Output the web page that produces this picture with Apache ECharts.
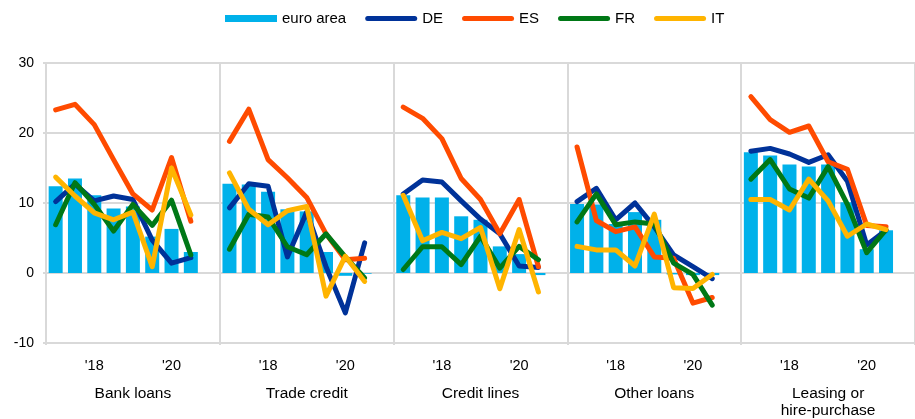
<!DOCTYPE html>
<html><head><meta charset="utf-8">
<script src="https://cdn.jsdelivr.net/npm/echarts@6/dist/echarts.min.js"></script>
<style>html,body{margin:0;padding:0;background:#fff}#c{width:915px;height:419px}</style>
</head><body><div id="c"></div>
<script>
const panels = ['Bank loans', 'Trade credit', 'Credit lines', 'Other loans', 'Leasing or\nhire-purchase'];
const periods = ['17H1', '17H2', '18H1', '18H2', '19H1', '19H2', '20H1', '20H2'];
const yearTicks = { '18H1': "'18", '20H1': "'20" };
const yTicks = [-10, 0, 10, 20, 30];

// one row per panel: Bank loans, Trade credit, Credit lines, Other loans, Leasing
const euroArea = [
  [12.4, 13.5, 11.1, 9.2, 9.5, 5.2, 6.3, 3.0],
  [12.75, 12.65, 11.6, 9.1, 8.8, 3.0, -0.4, -0.1],
  [11.1, 10.8, 10.8, 8.1, 7.6, 3.8, 2.7, -0.3],
  [9.85, 9.8, 7.0, 8.7, 7.6, -0.2, -0.3, -0.3],
  [17.25, 16.8, 15.5, 15.2, 15.5, 10.1, 3.4, 6.1]
];
const DE = [
  [10.2, 12.7, 10.3, 11.0, 10.5, 4.7, 1.4, 2.2],
  [9.3, 12.75, 12.4, 2.3, 8.7, 0.9, -5.7, 4.3],
  [11.3, 13.3, 13.0, 10.3, 7.7, 5.6, 1.0, 0.8],
  [10.2, 12.1, 7.6, 10.0, 6.6, 2.6, 0.9, -0.8],
  [17.4, 17.8, 17.0, 15.8, 16.9, 13.1, 4.0, 6.1]
];
const ES = [
  [23.3, 24.1, 21.2, 16.2, 11.3, 9.0, 16.5, 7.4],
  [18.8, 23.4, 16.2, 13.6, 10.8, 5.6, 1.9, 2.1],
  [23.7, 22.1, 19.2, 13.5, 10.5, 5.6, 10.5, 0.9],
  [18.0, 7.5, 5.9, 6.6, 2.3, 2.1, -4.3, -3.5],
  [25.2, 21.9, 20.1, 21.0, 15.9, 14.8, 6.8, 6.6]
];
const FR = [
  [6.9, 12.9, 9.8, 6.0, 9.8, 6.8, 10.4, 2.6],
  [3.4, 8.4, 8.0, 3.75, 2.6, 5.6, 2.3, -0.7],
  [0.5, 3.75, 3.75, 1.2, 5.25, 0.7, 3.8, 1.9],
  [7.3, 11.3, 6.9, 7.3, 7.0, 1.4, -0.2, -4.6],
  [13.4, 16.2, 12.0, 10.7, 15.2, 9.8, 2.9, 6.2]
];
const IT = [
  [13.7, 11.0, 8.6, 7.6, 8.7, 0.9, 15.0, 8.3],
  [14.3, 9.1, 6.9, 8.9, 9.5, -3.3, 2.4, -1.2],
  [11.1, 4.6, 5.8, 4.9, 6.5, -2.25, 6.2, -2.7],
  [3.8, 3.3, 3.3, 1.0, 8.4, -2.1, -2.2, -0.2],
  [10.5, 10.5, 9.0, 13.4, 10.3, 5.25, 7.0, 6.2]
];

const colors = { 'euro area': '#00B1EA', DE: '#003299', ES: '#FF4B00', FR: '#007816', IT: '#FFB400' };
const FONT = '"Liberation Sans", Arial, sans-serif';
const PER = periods.length + 1;
const LINE_ICON = 'path://M0,0 M52,7 M2.5,1 L49.5,1 A2.5,2.5 0 0 1 49.5,6 L2.5,6 A2.5,2.5 0 0 1 2.5,1 Z';

// build the 45-slot category axis (8 periods + 1 empty slot per panel)
const cats = [];
panels.forEach((p, i) => { periods.forEach(q => cats.push(i + '|' + q)); cats.push(i + '|gap'); });
function flat(rows) { const out = []; rows.forEach(r => { r.forEach(v => out.push(v)); out.push(null); }); return out; }

const lineSeries = (name, rows) => ({
  name, type: 'line', data: flat(rows), symbol: 'none', connectNulls: false,
  lineStyle: { color: colors[name], width: 5, cap: 'round', join: 'round' },
  itemStyle: { color: colors[name] }, z: 3
});

const chart = echarts.init(document.getElementById('c'), null, { renderer: 'canvas' });
chart.setOption({
  animation: false,
  textStyle: { fontFamily: FONT },
  legend: {
    top: 6, left: 220, itemWidth: 52, itemHeight: 7, itemGap: 19,
    textStyle: { fontFamily: FONT, fontSize: 15, color: '#000' },
    data: [
      { name: 'euro area', icon: 'rect' },
      { name: 'DE', icon: LINE_ICON }, { name: 'ES', icon: LINE_ICON },
      { name: 'FR', icon: LINE_ICON }, { name: 'IT', icon: LINE_ICON }
    ]
  },
  grid: { left: 46, top: 63, width: 873, height: 285, containLabel: false },
  xAxis: [{
    type: 'category', data: cats, boundaryGap: true,
    axisLine: { show: false },
    axisTick: { show: true, interval: (i) => i % PER === 0, length: 72, lineStyle: { color: '#d9d9d9', width: 2 } },
    splitLine: { show: true, interval: (i) => i % PER === 0, lineStyle: { color: '#d9d9d9', width: 2 } },
    axisLabel: {
      interval: 0, margin: 15, fontSize: 14.5, color: '#000', fontFamily: FONT,
      formatter: (v) => yearTicks[v.split('|')[1]] || ''
    }
  }, {
    type: 'category', data: panels, position: 'bottom', offset: 0,
    axisLine: { show: false }, axisTick: { show: false }, splitLine: { show: false },
    axisLabel: { margin: 42, fontSize: 15.5, color: '#000', lineHeight: 17, fontFamily: FONT }
  }],
  yAxis: {
    type: 'value', min: yTicks[0], max: yTicks[yTicks.length - 1], interval: 10,
    axisLine: { show: false },
    axisTick: { show: true, length: 3, lineStyle: { color: '#d9d9d9', width: 2 } },
    splitLine: { lineStyle: { color: '#d9d9d9', width: 2 } },
    axisLabel: { margin: 12, fontSize: 14, color: '#000', fontFamily: FONT }
  },
  series: [
    { name: 'euro area', type: 'bar', data: flat(euroArea), barWidth: 14, itemStyle: { color: colors['euro area'] }, z: 2 },
    lineSeries('DE', DE), lineSeries('ES', ES), lineSeries('FR', FR), lineSeries('IT', IT)
  ]
});
</script></body></html>
